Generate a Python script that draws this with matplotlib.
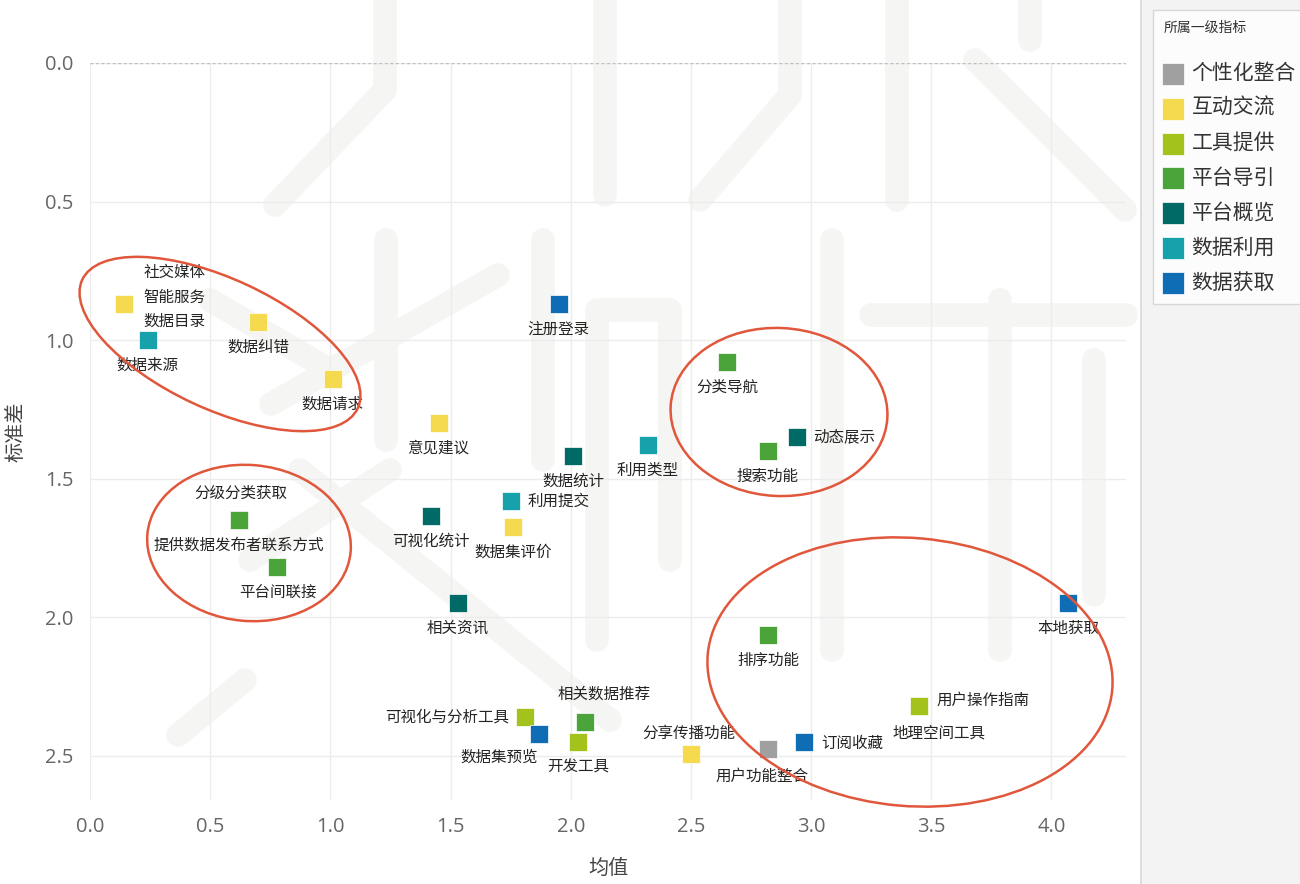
import matplotlib
matplotlib.use("Agg")
from matplotlib import pyplot as plt
from matplotlib.patches import Ellipse, Rectangle
from matplotlib.lines import Line2D

plt.rcParams['font.family'] = ['Noto Sans CJK SC', 'DejaVu Sans']

# data (均值 / 标准差 per 二级指标)
names = ['社交媒体', '智能服务', '数据目录', '数据来源', '数据纠错', '数据请求', '意见建议',
         '注册登录', '数据统计', '利用类型', '利用提交', '可视化统计', '数据集评价', '相关资讯',
         '分级分类获取', '提供数据发布者联系方式', '平台间联接', '分类导航', '动态展示', '搜索功能',
         '排序功能', '本地获取', '用户操作指南', '地理空间工具', '订阅收藏', '用户功能整合',
         '分享传播功能', '可视化与分析工具', '数据集预览', '相关数据推荐', '开发工具']
means = [0.14, 0.14, 0.14, 0.24, 0.70, 1.01, 1.45,
         1.95, 2.01, 2.32, 1.75, 1.42, 1.76, 1.53,
         0.62, 0.62, 0.78, 2.65, 2.94, 2.82,
         2.82, 4.07, 3.45, 3.45, 2.97, 2.82,
         2.50, 1.81, 1.87, 2.06, 2.03]
stds = [0.87, 0.87, 0.87, 1.00, 0.935, 1.14, 1.30,
        0.87, 1.42, 1.38, 1.58, 1.635, 1.675, 1.95,
        1.65, 1.65, 1.82, 1.08, 1.35, 1.40,
        2.065, 1.95, 2.32, 2.32, 2.45, 2.475,
        2.495, 2.36, 2.42, 2.38, 2.45]
groups = ['互动交流', '互动交流', '互动交流', '数据利用', '互动交流', '互动交流', '互动交流',
          '数据获取', '平台概览', '数据利用', '数据利用', '平台概览', '互动交流', '平台概览',
          '平台导引', '平台导引', '平台导引', '平台导引', '平台概览', '平台导引',
          '平台导引', '数据获取', '工具提供', '工具提供', '数据获取', '个性化整合',
          '互动交流', '工具提供', '数据获取', '平台导引', '工具提供']

categories = ['个性化整合', '互动交流', '工具提供', '平台导引', '平台概览', '数据利用', '数据获取']
colors = ['#a0a0a0', '#f5d94e', '#a3c21c', '#4aa43a', '#006b66', '#17a2ab', '#0f6db5']

# label placement: (dx px, dy px, ha), dy measured downward on screen
place = {
    '社交媒体': (20, -32, 'left'), '智能服务': (20, -7, 'left'), '数据目录': (20, 17, 'left'),
    '利用提交': (17, 0, 'left'), '动态展示': (16, 0, 'left'), '用户操作指南': (17, -6, 'left'),
    '订阅收藏': (17, 2, 'left'), '可视化与分析工具': (-16, 0, 'right'),
    '分级分类获取': (2, -27, 'center'), '分享传播功能': (-2, -21, 'center'),
    '相关数据推荐': (19, -28, 'center'), '地理空间工具': (20, 27, 'center'),
    '用户功能整合': (-6, 28, 'center'), '数据集预览': (-2, 24, 'right'),
}

fig = plt.figure(figsize=(13, 8.84), dpi=100)
fig.patch.set_facecolor('white')


def px(x, y):
    return x / 100.0, (884 - y) / 100.0


# faint watermark strokes behind the chart
strokes = [
    [(385, -20), (385, 90), (275, 205)], [(605, -20), (605, 195)],
    [(790, -20), (790, 95), (700, 200)], [(897, -20), (897, 200)],
    [(975, 60), (1125, 210)], [(1030, -20), (1030, 40)],
    [(386, 240), (386, 440)], [(271, 404), (498, 275)], [(210, 300), (330, 370)],
    [(543, 240), (543, 460)], [(597, 640), (597, 310), (670, 310), (670, 560)],
    [(832, 240), (832, 650)], [(1000, 300), (1000, 650)], [(871, 315), (1126, 315)],
    [(1094, 360), (1094, 595)], [(178, 735), (245, 680)], [(300, 470), (610, 720)],
    [(250, 560), (390, 470)],
]
for s in strokes:
    xs = [px(*p)[0] for p in s]
    ys = [px(*p)[1] for p in s]
    fig.add_artist(Line2D(xs, ys, transform=fig.dpi_scale_trans, color='#f5f5f4',
                          lw=17, solid_capstyle='round', solid_joinstyle='round', zorder=0))

# right legend panel
fig.add_artist(Rectangle(px(1141, 884), 1.59, 8.84, transform=fig.dpi_scale_trans,
                         facecolor='#f3f3f3', edgecolor='none', zorder=0))
fig.add_artist(Line2D([11.41, 11.41], [0, 8.84], transform=fig.dpi_scale_trans,
                      color='#d8d8d8', lw=1.2, zorder=1))

ax = fig.add_axes([90 / 1300, 84 / 884, 1036 / 1300, 737 / 884])
ax.set_facecolor('none')
ax.set_xlim(0, 4.31)
ax.set_ylim(2.66, 0)

for cat, col in zip(categories, colors):
    xs = [m for m, g in zip(means, groups) if g == cat]
    ys = [s for s, g in zip(stds, groups) if g == cat]
    ax.scatter(xs, ys, marker='s', s=175, color=col, edgecolors='white', linewidths=0.5,
               label=cat, zorder=3)

for n, m, s in zip(names, means, stds):
    dx, dy, ha = place.get(n, (0, 25, 'center'))
    ax.annotate(n, (m, s), xytext=(dx * 0.72, -dy * 0.72), textcoords='offset points',
                ha=ha, va='center', fontsize=11.2, color='#252423', zorder=4)

ax.set_xticks([0, 0.5, 1.0, 1.5, 2.0, 2.5, 3.0, 3.5, 4.0])
ax.set_yticks([0, 0.5, 1.0, 1.5, 2.0, 2.5])
ax.xaxis.set_major_formatter(matplotlib.ticker.FormatStrFormatter('%.1f'))
ax.yaxis.set_major_formatter(matplotlib.ticker.FormatStrFormatter('%.1f'))
ax.tick_params(length=0, labelsize=14.5, labelcolor='#666666', pad=12)
for lab in ax.get_xticklabels() + ax.get_yticklabels():
    lab.set_family(['Open Sans', 'DejaVu Sans'])
ax.grid(True, color='#ececec', lw=1)
ax.set_axisbelow(True)
for side in ['top', 'right', 'left', 'bottom']:
    ax.spines[side].set_visible(False)
ax.axhline(0, color='#bdbdbd', lw=1, ls=(0, (2, 2)), zorder=1)
ax.set_xlabel('均值', fontsize=14.5, color='#444444', labelpad=15)
ax.set_ylabel('标准差', fontsize=14.5, color='#444444', labelpad=13)

# highlight ellipses (screen pixels: centre, width, height, angle)
ellipses = [((220, 344), 304, 130, -25), ((249, 543), 204, 156, -5),
            ((779, 412), 217, 168, -3), ((910, 672), 406, 268, -5)]
for (cx, cy), w, h, a in ellipses:
    fig.add_artist(Ellipse(px(cx, cy), w / 100, h / 100, angle=a, transform=fig.dpi_scale_trans,
                           fill=False, edgecolor='#e0573c', lw=1.8, zorder=5))

leg = fig.legend(loc='upper left', bbox_to_anchor=(1153 / 1300, 1 - 10 / 884), title='所属一级指标',
                 fontsize=15, title_fontsize=10, frameon=True, fancybox=False, borderaxespad=0,
                 handletextpad=0.45, labelspacing=0.62, borderpad=0.5, markerscale=1.2,
                 handlelength=0.9, alignment='left')
leg._legend_box.sep = 20
leg.get_frame().set_edgecolor('#d0d0d0')
leg.get_frame().set_facecolor('white')
leg.get_title().set_color('#333333')
for t in leg.get_texts():
    t.set_color('#333333')

plt.savefig('out.png', dpi=100)
